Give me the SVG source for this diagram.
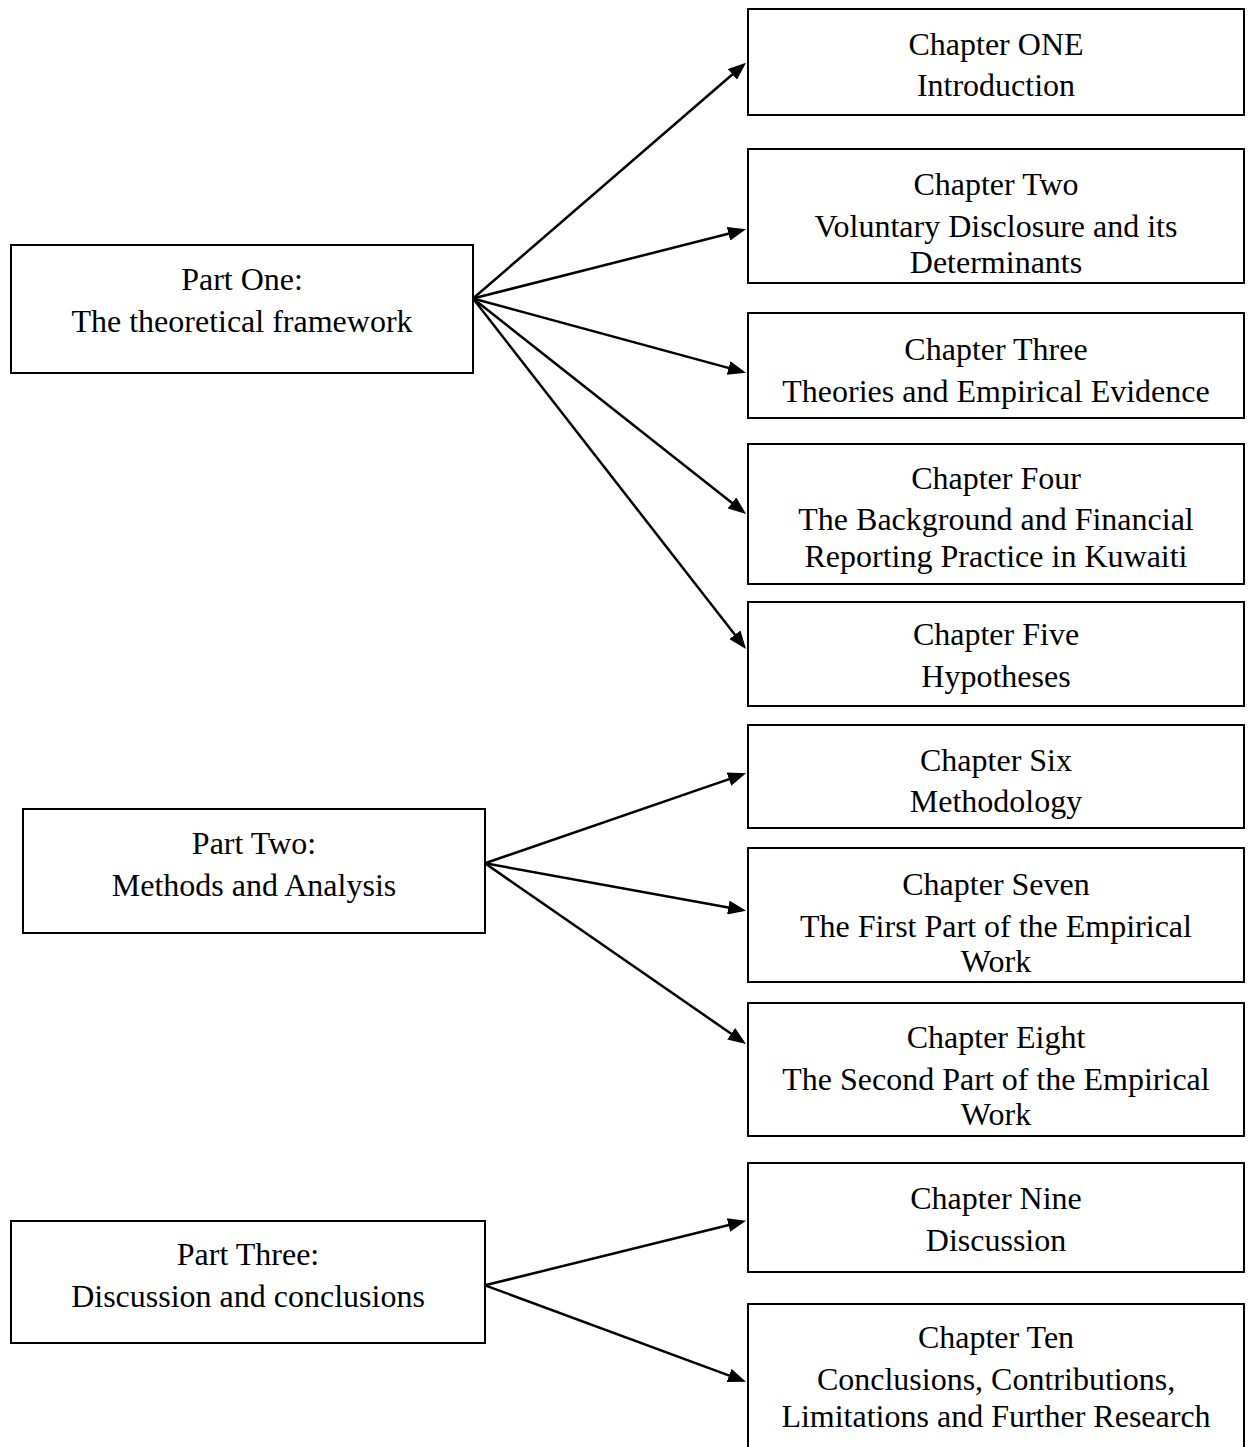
<svg xmlns="http://www.w3.org/2000/svg" width="1253" height="1447" viewBox="0 0 1253 1447">
<style>
.box{fill:#fff;stroke:#000;stroke-width:2}
.t{font-family:"Liberation Serif","Times New Roman",serif;font-size:32px;fill:#000;text-anchor:middle}
.c{stroke:#000;stroke-width:2.5;fill:none;marker-end:url(#ah)}
</style>
<defs>
<marker id="ah" markerUnits="userSpaceOnUse" markerWidth="18" markerHeight="14" refX="14" refY="7" orient="auto">
<path d="M0,0 L18,7 L0,14 z" fill="#000"/>
</marker>
</defs>
<rect width="1253" height="1447" fill="#fff"/>
<g id="connectors">
<line class="c" x1="473" y1="298.5" x2="743" y2="65.3"/>
<line class="c" x1="473" y1="298.5" x2="742.1" y2="230.3"/>
<line class="c" x1="473" y1="298.5" x2="742.1" y2="371.6"/>
<line class="c" x1="473" y1="298.5" x2="742.9" y2="511.5"/>
<line class="c" x1="473" y1="298.5" x2="743.5" y2="645.8"/>
<line class="c" x1="485" y1="863.3" x2="742.2" y2="774.6"/>
<line class="c" x1="485" y1="863.3" x2="742.1" y2="910"/>
<line class="c" x1="485" y1="863.3" x2="742.7" y2="1041.7"/>
<line class="c" x1="485" y1="1285.3" x2="742.1" y2="1221.7"/>
<line class="c" x1="485" y1="1285.3" x2="742.2" y2="1380.3"/>
</g>
<g id="part1"><rect class="box" x="11" y="245" width="462" height="128"/>
<text class="t" x="242" y="290">Part One:</text><text class="t" x="242" y="332">The theoretical framework</text></g>
<g id="part2"><rect class="box" x="23" y="809" width="462" height="124"/>
<text class="t" x="254" y="854">Part Two:</text><text class="t" x="254" y="896">Methods and Analysis</text></g>
<g id="part3"><rect class="box" x="11" y="1221" width="474" height="122"/>
<text class="t" x="248" y="1265">Part Three:</text><text class="t" x="248" y="1307">Discussion and conclusions</text></g>
<g id="ch1"><rect class="box" x="748" y="9" width="496" height="106"/>
<text class="t" x="996" y="55">Chapter ONE</text><text class="t" x="996" y="96">Introduction</text></g>
<g id="ch2"><rect class="box" x="748" y="149" width="496" height="134"/>
<text class="t" x="996" y="195">Chapter Two</text><text class="t" x="996" y="237">Voluntary Disclosure and its</text><text class="t" x="996" y="273">Determinants</text></g>
<g id="ch3"><rect class="box" x="748" y="313" width="496" height="105"/>
<text class="t" x="996" y="360">Chapter Three</text><text class="t" x="996" y="402">Theories and Empirical Evidence</text></g>
<g id="ch4"><rect class="box" x="748" y="444" width="496" height="140"/>
<text class="t" x="996" y="489">Chapter Four</text><text class="t" x="996" y="530">The Background and Financial</text><text class="t" x="996" y="567">Reporting Practice in Kuwaiti</text></g>
<g id="ch5"><rect class="box" x="748" y="602" width="496" height="104"/>
<text class="t" x="996" y="645">Chapter Five</text><text class="t" x="996" y="687">Hypotheses</text></g>
<g id="ch6"><rect class="box" x="748" y="725" width="496" height="103"/>
<text class="t" x="996" y="771">Chapter Six</text><text class="t" x="996" y="812">Methodology</text></g>
<g id="ch7"><rect class="box" x="748" y="848" width="496" height="134"/>
<text class="t" x="996" y="895">Chapter Seven</text><text class="t" x="996" y="937">The First Part of the Empirical</text><text class="t" x="996" y="972">Work</text></g>
<g id="ch8"><rect class="box" x="748" y="1003" width="496" height="133"/>
<text class="t" x="996" y="1048">Chapter Eight</text><text class="t" x="996" y="1090">The Second Part of the Empirical</text><text class="t" x="996" y="1125">Work</text></g>
<g id="ch9"><rect class="box" x="748" y="1163" width="496" height="109"/>
<text class="t" x="996" y="1209">Chapter Nine</text><text class="t" x="996" y="1251">Discussion</text></g>
<g id="ch10"><rect class="box" x="748" y="1304" width="496" height="146"/>
<text class="t" x="996" y="1348">Chapter Ten</text><text class="t" x="996" y="1390">Conclusions, Contributions,</text><text class="t" x="996" y="1427">Limitations and Further Research</text></g>
</svg>
